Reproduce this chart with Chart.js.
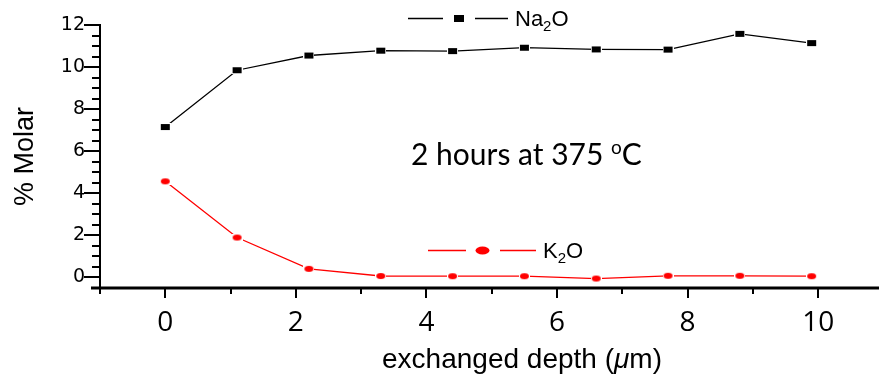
<!DOCTYPE html>
<html>
<head>
<meta charset="utf-8">
<script src="https://cdn.jsdelivr.net/npm/chart.js@4/dist/chart.umd.min.js"></script>
<style>
  html, body { margin: 0; padding: 0; background: #fff; }
  #wrap { width: 879px; height: 376px; position: relative; }
</style>
</head>
<body>
<div id="wrap"><canvas id="chart"></canvas></div>
<script>
// exchanged depth (um)
const depth = [0, 1.1, 2.2, 3.3, 4.4, 5.5, 6.6, 7.7, 8.8, 9.9];
// % molar
const na2o = [7.15, 9.85, 10.55, 10.78, 10.76, 10.92, 10.84, 10.83, 11.58, 11.14];
const k2o = [4.57, 1.9, 0.41, 0.07, 0.06, 0.06, -0.05, 0.08, 0.08, 0.06];
// small green mark sitting on one Na2O point
const highlightX = [4.4];
const highlightY = [10.8];

const xTicks = [0, 2, 4, 6, 8, 10];
const yTicks = [0, 2, 4, 6, 8, 10, 12];

const sans = '"Liberation Sans", Arial, sans-serif';

function marker(w, h, color, round) {
    const c = document.createElement("canvas");
    c.width = w + 2;
    c.height = h + 2;
    const g = c.getContext("2d");
    g.fillStyle = "#fff";
    g.fillRect(0, 0, c.width, c.height);
    g.fillStyle = color;
    if (round) {
        g.beginPath();
        g.ellipse(c.width / 2, c.height / 2, w / 2, h / 2, 0, 0, Math.PI * 2);
        g.fill();
    } else {
        g.fillRect(1, 1, w, h);
    }
    return c;
}

function drawRuns(ctx, x, y, runs, align) {
    let total = 0;
    runs.forEach(r => { ctx.font = r.font; total += ctx.measureText(r.text).width; });
    let cx = align === "center" ? x - total / 2 : x;
    ctx.textAlign = "left";
    ctx.textBaseline = "alphabetic";
    runs.forEach(r => {
        ctx.font = r.font;
        ctx.fillText(r.text, cx, y + (r.dy || 0));
        cx += ctx.measureText(r.text).width;
    });
}

const decorations = {
    id: "decorations",
    afterDraw(chart) {
        const { ctx, chartArea } = chart;
        const x = chart.scales.x;
        const y = chart.scales.y;
        ctx.save();
        ctx.strokeStyle = "#000";
        ctx.fillStyle = "#000";

        // y axis and ticks
        const yTop = y.getPixelForValue(12);
        ctx.lineWidth = 2;
        ctx.beginPath();
        ctx.moveTo(chartArea.left, yTop - 1);
        ctx.lineTo(chartArea.left, chartArea.bottom);
        ctx.stroke();
        for (let v = 0; v <= 12; v += 0.5) {
            const py = Math.round(y.getPixelForValue(v));
            const len = v % 2 === 0 ? 16 : 8;
            ctx.beginPath();
            ctx.moveTo(chartArea.left - len, py);
            ctx.lineTo(chartArea.left, py);
            ctx.stroke();
        }

        // x axis and ticks
        ctx.lineWidth = 3;
        ctx.beginPath();
        ctx.moveTo(chartArea.left - 9, chartArea.bottom);
        ctx.lineTo(chart.width, chartArea.bottom);
        ctx.stroke();
        ctx.lineWidth = 2;
        for (let v = -1; v <= 10; v += 1) {
            const px = Math.round(x.getPixelForValue(v));
            const len = v % 2 === 0 ? 10 : 6;
            ctx.beginPath();
            ctx.moveTo(px, chartArea.bottom);
            ctx.lineTo(px, chartArea.bottom + len);
            ctx.stroke();
        }

        // x title with italic mu
        const tf = "28px " + sans;
        drawRuns(ctx, 522, 368, [
            { text: "exchanged depth (", font: tf },
            { text: "\u03bc", font: "italic " + tf },
            { text: "m)", font: tf }
        ], "center");

        // annotation
        const af = "30px Lato, sans-serif";
        drawRuns(ctx, 411, 165, [
            { text: "2 hours at 375 ", font: af },
            { text: "o", font: "19px Lato, sans-serif", dy: -11 },
            { text: "C", font: af }
        ], "left");

        // legend Na2O
        ctx.lineWidth = 1.5;
        ctx.strokeStyle = "#000";
        ctx.beginPath();
        ctx.moveTo(408, 18.5); ctx.lineTo(443, 18.5);
        ctx.moveTo(475, 18.5); ctx.lineTo(508, 18.5);
        ctx.stroke();
        ctx.fillRect(454, 15, 10, 7);
        const lf = "22px " + sans;
        const sf = "15px " + sans;
        drawRuns(ctx, 515, 26, [
            { text: "Na", font: lf },
            { text: "2", font: sf, dy: 5 },
            { text: "O", font: lf }
        ], "left");

        // legend K2O
        ctx.strokeStyle = "#ff0000";
        ctx.fillStyle = "#ff0000";
        ctx.beginPath();
        ctx.moveTo(428, 250.5); ctx.lineTo(466, 250.5);
        ctx.moveTo(500, 250.5); ctx.lineTo(536, 250.5);
        ctx.stroke();
        ctx.beginPath();
        ctx.ellipse(482.5, 250.5, 7, 4, 0, 0, Math.PI * 2);
        ctx.fill();
        ctx.fillStyle = "#000";
        drawRuns(ctx, 543, 258, [
            { text: "K", font: lf },
            { text: "2", font: sf, dy: 5 },
            { text: "O", font: lf }
        ], "left");

        ctx.restore();
    }
};

const toPoints = (xs, ys) => xs.map((v, i) => ({ x: v, y: ys[i] }));

new Chart(document.getElementById("chart"), {
    type: "line",
    data: {
        datasets: [
            {
                label: "Na2O",
                data: toPoints(depth, na2o),
                borderColor: "#000",
                borderWidth: 1.3,
                pointStyle: marker(9, 6, "#000", false),
                tension: 0
            },
            {
                label: "K2O",
                data: toPoints(depth, k2o),
                borderColor: "#ff0000",
                borderWidth: 1.3,
                pointStyle: marker(9, 6, "#ff0000", true),
                tension: 0
            },
            {
                label: "mark",
                data: toPoints(highlightX, highlightY),
                showLine: false,
                pointStyle: "triangle",
                pointRadius: 3.5,
                backgroundColor: "#22dd22",
                borderColor: "#22dd22",
                borderWidth: 0
            }
        ]
    },
    options: {
        responsive: true,
        maintainAspectRatio: false,
        animation: false,
        layout: { padding: { top: 25, right: 0, left: 0, bottom: 0 } },
        plugins: {
            legend: { display: false },
            tooltip: { enabled: false }
        },
        scales: {
            x: {
                type: "linear",
                min: -1,
                max: 10.85,
                grid: { display: false },
                border: { display: false },
                afterBuildTicks: s => { s.ticks = xTicks.map(v => ({ value: v })); },
                afterFit: s => { s.height = 88; },
                ticks: {
                    padding: 10,
                    color: "#000",
                    font: { size: 28, family: '"Open Sans", sans-serif' },
                    maxRotation: 0
                }
            },
            y: {
                min: -0.5,
                max: 12,
                grid: { display: false },
                border: { display: false },
                afterBuildTicks: s => { s.ticks = yTicks.map(v => ({ value: v })); },
                afterFit: s => { s.width = 100; },
                ticks: {
                    padding: 7,
                    color: "#000",
                    font: { size: 19, family: '"DejaVu Sans", sans-serif' }
                },
                title: {
                    display: true,
                    text: "% Molar",
                    color: "#000",
                    font: { size: 27, family: sans },
                    padding: { top: 9, bottom: 0 }
                }
            }
        }
    },
    plugins: [decorations]
});
</script>
</body>
</html>
